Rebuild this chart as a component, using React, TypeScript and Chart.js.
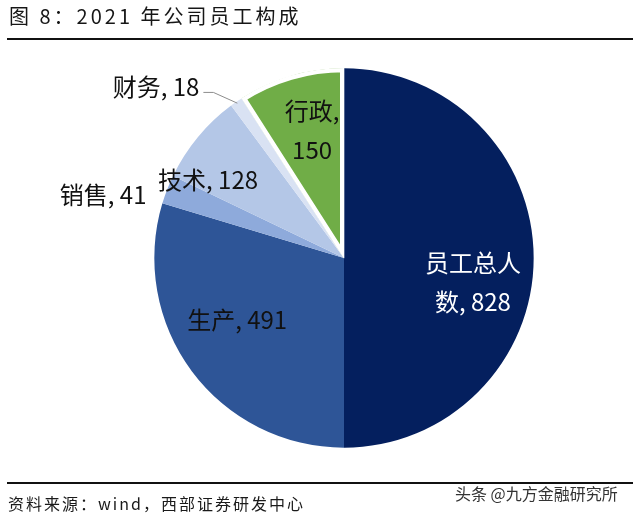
import React, { useEffect, useRef } from "react";
import { Chart, registerables } from "chart.js";

Chart.register(...registerables);

const categories = ["员工总人数", "生产", "销售", "技术", "财务", "行政"];
const values = [828, 491, 41, 128, 18, 150];
const colors = ["#041f5e", "#2e5597", "#8eaadb", "#b4c7e7", "#d9e2f3", "#70ad47"];

const titleText = "图 8：2021 年公司员工构成";
const sourceText = "资料来源：wind，西部证券研发中心";
const watermarkText = "头条 @九方金融研究所";

type Spec = { r: number; da: number; color: string; wrap?: number; leader?: boolean };
const labelSpecs: Spec[] = [
  { r: 0.69, da: 10.5, color: "#ffffff", wrap: 4 },
  { r: 0.65, da: 6.5, color: "#111111" },
  { r: 1.31, da: -6.6, color: "#111111" },
  { r: 0.825, da: -9.7, color: "#111111" },
  { r: 1.11, da: -3.7, color: "#111111", leader: true },
  { r: 0.69, da: 2.2, color: "#111111", wrap: 3 },
];

const FONT = '24px "Noto Sans CJK SC", "Noto Sans", sans-serif';

const labelPlugin = {
  id: "sliceLabels",
  afterDatasetsDraw(chart: any) {
    const ctx: CanvasRenderingContext2D = chart.ctx;
    const meta = chart.getDatasetMeta(0);
    meta.data.forEach((arc: any, i: number) => {
      const p = arc.getProps(["x", "y", "startAngle", "endAngle", "outerRadius"], true);
      const spec = labelSpecs[i];
      const R = 190;
      const midRaw = (p.startAngle + p.endAngle) / 2;
      const mid = midRaw + (spec.da * Math.PI) / 180;
      const text = `${categories[i]}, ${values[i]}`;
      ctx.save();
      ctx.font = FONT;
      ctx.fillStyle = spec.color;
      ctx.textBaseline = "middle";
      if (spec.leader) {
        const sx = p.x + (R - 2) * Math.cos(midRaw);
        const sy = p.y + (R - 2) * Math.sin(midRaw);
        const ex = p.x + R * spec.r * Math.cos(mid);
        const ey = p.y + R * spec.r * Math.sin(mid);
        ctx.strokeStyle = "#8c8c8c";
        ctx.lineWidth = 1;
        ctx.beginPath();
        ctx.moveTo(sx, sy);
        ctx.lineTo(ex, ey);
        ctx.lineTo(ex - 10, ey);
        ctx.stroke();
        ctx.textAlign = "right";
        ctx.fillText(text, ex - 14, ey - 6);
      } else {
        const cx = p.x + R * spec.r * Math.cos(mid);
        const cy = p.y + R * spec.r * Math.sin(mid);
        ctx.textAlign = "center";
        if (spec.wrap) {
          const l1 = text.slice(0, spec.wrap);
          const l2 = text.slice(spec.wrap).trim();
          const lh = 39;
          ctx.fillText(l1, cx, cy - lh / 2);
          ctx.fillText(l2, cx, cy + lh / 2);
        } else {
          ctx.fillText(text, cx, cy);
        }
      }
      ctx.restore();
    });
  },
};

export default function App() {
  const ref = useRef<HTMLCanvasElement | null>(null);
  useEffect(() => {
    if (!ref.current) return;
    const chart = new Chart(ref.current, {
      type: "pie",
      data: {
        labels: categories,
        datasets: [
          {
            data: values,
            backgroundColor: colors,
            borderColor: "#ffffff",
            borderWidth: [0, 0, 0, 0, 0, 4],
            borderAlign: "inner",
            hoverOffset: 0,
          } as any,
        ],
      },
      options: {
        responsive: false,
        animation: false,
        events: [],
        layout: { padding: { left: 154, right: 106, top: 68, bottom: 69 } },
        plugins: { legend: { display: false }, tooltip: { enabled: false }, title: { display: false } },
      },
      plugins: [labelPlugin],
    });
    return () => chart.destroy();
  }, []);

  return (
    <div style={{ position: "fixed", left: 0, top: 0, width: 640, height: 517, background: "#fff", overflow: "hidden" }}>
      <canvas ref={ref} width={640} height={517} style={{ position: "absolute", left: 0, top: 0, width: 640, height: 517 }} />
      <div
        style={{
          position: "absolute",
          left: 9,
          top: 2,
          fontFamily: '"Noto Sans CJK SC", sans-serif',
          fontSize: 20,
          letterSpacing: 3,
          color: "#161616",
          lineHeight: "28px",
          whiteSpace: "nowrap",
        }}
      >
        {titleText}
      </div>
      <div style={{ position: "absolute", left: 7, top: 38, width: 626, height: 2, background: "#111" }} />
      <div style={{ position: "absolute", left: 7, top: 482, width: 626, height: 2, background: "#111" }} />
      <div
        style={{
          position: "absolute",
          left: 8,
          top: 490,
          fontFamily: '"Noto Sans CJK SC", sans-serif',
          fontSize: 16,
          letterSpacing: 2,
          color: "#1a1a1a",
          lineHeight: "26px",
          whiteSpace: "nowrap",
        }}
      >
        {sourceText}
      </div>
      <div
        style={{
          position: "absolute",
          left: 455,
          top: 482,
          fontFamily: '"Noto Sans CJK SC", sans-serif',
          fontSize: 16,
          color: "#333",
          lineHeight: "22px",
          whiteSpace: "nowrap",
        }}
      >
        {watermarkText}
      </div>
    </div>
  );
}
